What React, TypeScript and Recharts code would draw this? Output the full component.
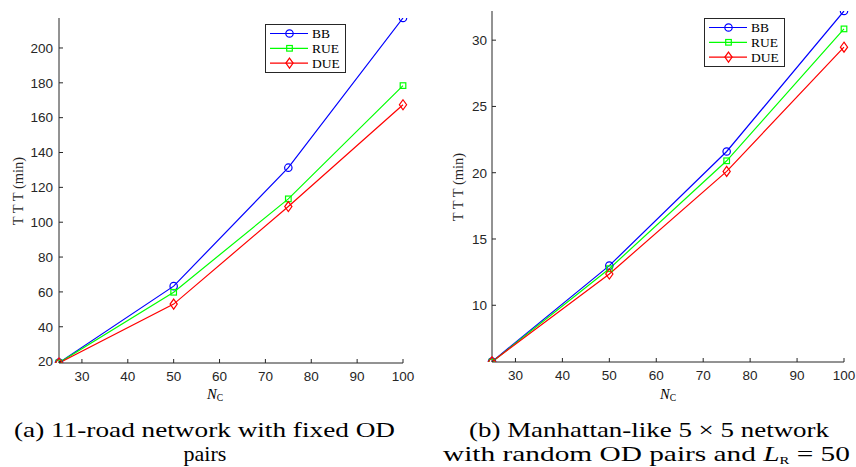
import React from "react";
import { LineChart, Line, XAxis, YAxis, Legend, Label } from "recharts";

// N_C values on the x axis
const nc = [25, 50, 75, 100];

// (a) 11-road network
const bbA = [19.4, 63.3, 131.3, 217.2];
const rueA = [19.3, 59.8, 113.4, 178.4];
const dueA = [19.2, 53.0, 109.0, 167.4];

// (b) Manhattan-like 5x5 network
const bbB = [5.75, 12.99, 21.6, 32.2];
const rueB = [5.72, 12.76, 20.9, 30.85];
const dueB = [5.74, 12.36, 20.1, 29.47];

const xTicks = [30, 40, 50, 60, 70, 80, 90, 100];
const yTicksA = [20, 40, 60, 80, 100, 120, 140, 160, 180, 200];
const yTicksB = [10, 15, 20, 25, 30];

const AXIS = "#262626";
const TICK_FONT = "'Liberation Sans', Arial, sans-serif";
const SERIF = "'Liberation Serif', 'Times New Roman', serif";

const series = [
  { key: "bb", name: "BB", color: "#0000ff", kind: "circle" },
  { key: "rue", name: "RUE", color: "#00ff00", kind: "square" },
  { key: "due", name: "DUE", color: "#ff0000", kind: "diamond" },
];

const toRows = (a: number[], b: number[], c: number[]) =>
  nc.map((n, i) => ({ n, bb: a[i], rue: b[i], due: c[i] }));

const rowsA = toRows(bbA, rueA, dueA);
const rowsB = toRows(bbB, rueB, dueB);

const domA = [Math.min(...bbA, ...rueA, ...dueA), Math.max(...bbA, ...rueA, ...dueA)];
const domB = [Math.min(...bbB, ...rueB, ...dueB), Math.max(...bbB, ...rueB, ...dueB)];

const Marker = ({ kind, cx, cy, color }: any) => {
  if (kind === "circle")
    return <circle cx={cx} cy={cy} r={3.7} fill="none" stroke={color} strokeWidth={1.2} />;
  if (kind === "square")
    return (
      <rect x={cx - 2.8} y={cy - 2.8} width={5.6} height={5.6} fill="none" stroke={color} strokeWidth={1.2} />
    );
  return (
    <polygon
      points={`${cx},${cy - 5} ${cx + 3.6},${cy} ${cx},${cy + 5} ${cx - 3.6},${cy}`}
      fill="none"
      stroke={color}
      strokeWidth={1.2}
    />
  );
};

const LegendBox = () => (
  <svg width={81} height={49} style={{ display: "block" }}>
    <rect x={0.5} y={0.5} width={80} height={48} fill="#fff" stroke={AXIS} strokeWidth={1} />
    {series.map((s, i) => {
      const y = 9.5 + i * 14.8;
      return (
        <g key={s.key}>
          <line x1={5} x2={43} y1={y} y2={y} stroke={s.color} strokeWidth={1.2} />
          <Marker kind={s.kind} cx={24.5} cy={y} color={s.color} />
          <text x={47} y={y + 4.5} fontFamily={SERIF} fontSize={13.5} fill="#000">
            {s.name}
          </text>
        </g>
      );
    })}
  </svg>
);

type PanelProps = {
  rows: any[];
  dom: number[];
  yTicks: number[];
  width: number;
  margin: any;
  yWidth: number;
  yTickMargin: number;
  legendPos: { left: number; top: number };
  yLabelPos: { x: number; y: number };
  xLabelX: number;
};

const Panel = ({ rows, dom, yTicks, width, margin, yWidth, yTickMargin, legendPos, yLabelPos, xLabelX }: PanelProps) => (
  <LineChart width={width} height={410} data={rows} margin={margin}>
    <XAxis
      dataKey="n"
      type="number"
      domain={[25, 100]}
      ticks={xTicks}
      height={30}
      tickSize={-4}
      tickMargin={12}
      stroke={AXIS}
      tick={{ fill: AXIS, fontSize: 13.5, fontFamily: TICK_FONT }}
    >
      <Label
        content={() => (
          <text x={xLabelX} y={399} textAnchor="middle" fontFamily={SERIF} fontSize={14.5} fill="#000">
            <tspan fontStyle="italic">N</tspan>
            <tspan fontSize={9.5} dy={2}>C</tspan>
          </text>
        )}
      />
    </XAxis>
    <XAxis
      xAxisId="top"
      orientation="top"
      dataKey="n"
      type="number"
      domain={[25, 100]}
      ticks={xTicks}
      height={0}
      tickSize={-4}
      tick={false}
      stroke={AXIS}
    />
    <YAxis
      type="number"
      domain={dom}
      ticks={yTicks}
      width={yWidth}
      tickSize={-4}
      tickMargin={yTickMargin}
      stroke={AXIS}
      allowDataOverflow
      tick={{ fill: AXIS, fontSize: 13.5, fontFamily: TICK_FONT }}
    >
      <Label
        content={() => (
          <text
            transform={`translate(${yLabelPos.x},${yLabelPos.y}) rotate(-90)`}
            textAnchor="middle"
            dominantBaseline="central"
            fontFamily={SERIF}
            fontSize={14.5}
            fill={AXIS}
          >
            T T T (min)
          </text>
        )}
      />
    </YAxis>
    <YAxis
      yAxisId="right"
      orientation="right"
      type="number"
      domain={dom}
      ticks={yTicks}
      width={0}
      tickSize={-4}
      tick={false}
      stroke={AXIS}
      allowDataOverflow
    />
    {series.map((s) => (
      <Line
        key={s.key}
        dataKey={s.key}
        name={s.name}
        stroke={s.color}
        strokeWidth={1.2}
        isAnimationActive={false}
        dot={(p: any) => <Marker key={`${s.key}-${p.index}`} kind={s.kind} cx={p.cx} cy={p.cy} color={s.color} />}
        activeDot={false}
      />
    ))}
    <Legend
      layout="vertical"
      align="center"
      verticalAlign="middle"
      content={() => <LegendBox />}
      wrapperStyle={{ left: legendPos.left, top: legendPos.top, width: 81, height: 49 }}
    />
  </LineChart>
);

export default function App() {
  return (
    <div style={{ position: "fixed", left: 0, top: 0, width: 856, height: 467, background: "#fff" }}>
      <div style={{ position: "absolute", left: 0, top: 0 }}>
        <Panel
          rows={rowsA}
          dom={domA}
          yTicks={yTicksA}
          width={420}
          margin={{ top: 18, right: 17, bottom: 17, left: 0 }}
          yWidth={59}
          yTickMargin={10}
          legendPos={{ left: 265, top: 24 }}
          yLabelPos={{ x: 18, y: 191 }}
          xLabelX={215}
        />
      </div>
      <div style={{ position: "absolute", left: 430, top: 0 }}>
        <Panel
          rows={rowsB}
          dom={domB}
          yTicks={yTicksB}
          width={426}
          margin={{ top: 11, right: 12, bottom: 18, left: 0 }}
          yWidth={62}
          yTickMargin={9}
          legendPos={{ left: 274, top: 18 }}
          yLabelPos={{ x: 28, y: 187 }}
          xLabelX={238}
        />
      </div>
      <svg width={856} height={67} style={{ position: "absolute", left: 0, top: 400 }}>
        <g fontFamily={SERIF} fontSize={22} fill="#000">
          <text x={14} y={37} textLength={381} lengthAdjust="spacingAndGlyphs">
            (a) 11-road network with fixed OD
          </text>
          <text x={205} y={61} textAnchor="middle">
            pairs
          </text>
          <text x={469} y={37} textLength={360} lengthAdjust="spacingAndGlyphs">
            (b) Manhattan-like 5 × 5 network
          </text>
          <text x={443} y={61} textLength={407} lengthAdjust="spacingAndGlyphs">
            with random OD pairs and <tspan fontStyle="italic">L</tspan>
            <tspan fontSize={11} dy={3}>R</tspan>
            <tspan dy={-3}> = 50</tspan>
          </text>
        </g>
      </svg>
    </div>
  );
}
